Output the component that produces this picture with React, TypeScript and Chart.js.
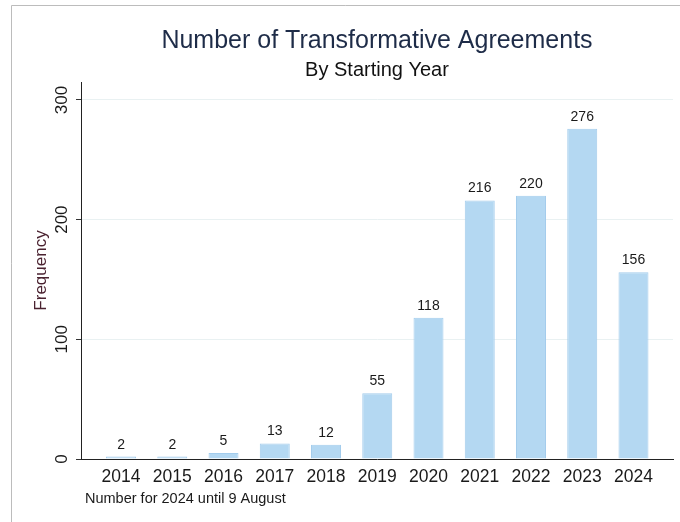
import React, { useEffect, useRef } from "react";
import { Chart, registerables } from "chart.js";

Chart.register(...registerables);

const years: number[] = [2014, 2015, 2016, 2017, 2018, 2019, 2020, 2021, 2022, 2023, 2024];
const counts: number[] = [2, 2, 5, 13, 12, 55, 118, 216, 220, 276, 156];
const yTickValues: number[] = [0, 100, 200, 300];
const titleText = "Number of Transformative Agreements";
const subtitleText = "By Starting Year";
const yAxisTitle = "Frequency";
const noteText = "Number for 2024 until 9 August";

const FONT = "'Liberation Sans', Arial, Helvetica, sans-serif";

const overlayPlugin = {
  id: "overlay",
  beforeDraw(chart: any) {
    const ctx = chart.ctx;
    ctx.save();
    ctx.fillStyle = "#ffffff";
    ctx.fillRect(0, 0, chart.width, chart.height);
    ctx.strokeStyle = "#bcbcbc";
    ctx.lineWidth = 1;
    ctx.beginPath();
    ctx.moveTo(11.5, chart.height);
    ctx.lineTo(11.5, 5.5);
    ctx.lineTo(chart.width, 5.5);
    ctx.stroke();
    ctx.restore();
  },
  afterDraw(chart: any) {
    const ctx = chart.ctx;
    const yScale = chart.scales.y;
    ctx.save();
    // y tick labels, rotated
    ctx.fillStyle = "#1a1a1a";
    ctx.font = `17px ${FONT}`;
    ctx.textAlign = "center";
    ctx.textBaseline = "alphabetic";
    yScale.ticks.forEach((t: any) => {
      const py = yScale.getPixelForValue(t.value);
      ctx.save();
      ctx.translate(67, py);
      ctx.rotate(-Math.PI / 2);
      ctx.fillText(String(t.value), 0, 0);
      ctx.restore();
    });
    // data labels
    const meta = chart.getDatasetMeta(0);
    ctx.font = `14px ${FONT}`;
    ctx.fillStyle = "#1a1a1a";
    ctx.textAlign = "center";
    ctx.textBaseline = "alphabetic";
    meta.data.forEach((el: any, i: number) => {
      ctx.fillText(String(counts[i]), el.x, el.y - 8);
    });
    // note
    ctx.font = `14.5px ${FONT}`;
    ctx.textAlign = "left";
    ctx.fillText(noteText, 85, 503);
    ctx.restore();
  },
};

export default function App() {
  const ref = useRef<HTMLCanvasElement | null>(null);
  useEffect(() => {
    if (!ref.current) return;
    const chart = new Chart(ref.current, {
      type: "bar",
      data: {
        datasets: [
          {
            data: years.map((y, i) => ({ x: y, y: counts[i] })),
            backgroundColor: "#b4d8f2",
            borderColor: "#a3ccec",
            borderWidth: 1,
            barPercentage: 0.585,
            categoryPercentage: 1,
          },
        ],
      },
      options: {
        animation: false,
        responsive: false,
        devicePixelRatio: 1,
        layout: { padding: { left: 0, right: 7, top: 26, bottom: 0 } },
        plugins: {
          legend: { display: false },
          tooltip: { enabled: false },
          title: {
            display: true,
            text: titleText,
            fullSize: false,
            color: "#1e2c48",
            font: { family: FONT, size: 25, weight: "normal", lineHeight: 1.2 },
            padding: { top: 0, bottom: 0 },
          },
          subtitle: {
            display: true,
            text: subtitleText,
            fullSize: false,
            color: "#111111",
            font: { family: FONT, size: 20, weight: "normal", lineHeight: 1.2 },
            padding: { top: 2, bottom: 0 },
          },
        },
        scales: {
          x: {
            type: "linear",
            min: 2013.219,
            max: 2024.771,
            offset: false,
            grid: { display: false, drawTicks: false },
            border: { display: true, color: "#222222", width: 1 },
            ticks: {
              stepSize: 1,
              includeBounds: false,
              autoSkip: false,
              maxRotation: 0,
              color: "#1a1a1a",
              font: { family: FONT, size: 17.5 },
              padding: 8,
              callback: (v: any) => String(v),
            },
            afterFit: (s: any) => {
              s.height = 63;
            },
          },
          y: {
            type: "linear",
            min: 0,
            max: 315,
            grid: {
              color: "#e9f1f2",
              lineWidth: 1,
              drawTicks: true,
              tickLength: 5,
              tickColor: "#333333",
            },
            border: { display: true, color: "#222222", width: 1 },
            ticks: {
              stepSize: 100,
              includeBounds: false,
              display: false,
            },
            title: {
              display: true,
              text: yAxisTitle,
              color: "#4a2230",
              font: { family: FONT, size: 17 },
              padding: { top: 31, bottom: 4 },
            },
            afterFit: (s: any) => {
              s.width = 81;
            },
            afterBuildTicks: (s: any) => {
              s.ticks = yTickValues.map((v) => ({ value: v }));
            },
          },
        },
      },
      plugins: [overlayPlugin],
    });
    return () => chart.destroy();
  }, []);
  return (
    <div style={{ position: "fixed", left: 0, top: 0, width: 680, height: 522, background: "#fff" }}>
      <canvas ref={ref} width={680} height={522} style={{ width: 680, height: 522, display: "block" }} />
    </div>
  );
}
